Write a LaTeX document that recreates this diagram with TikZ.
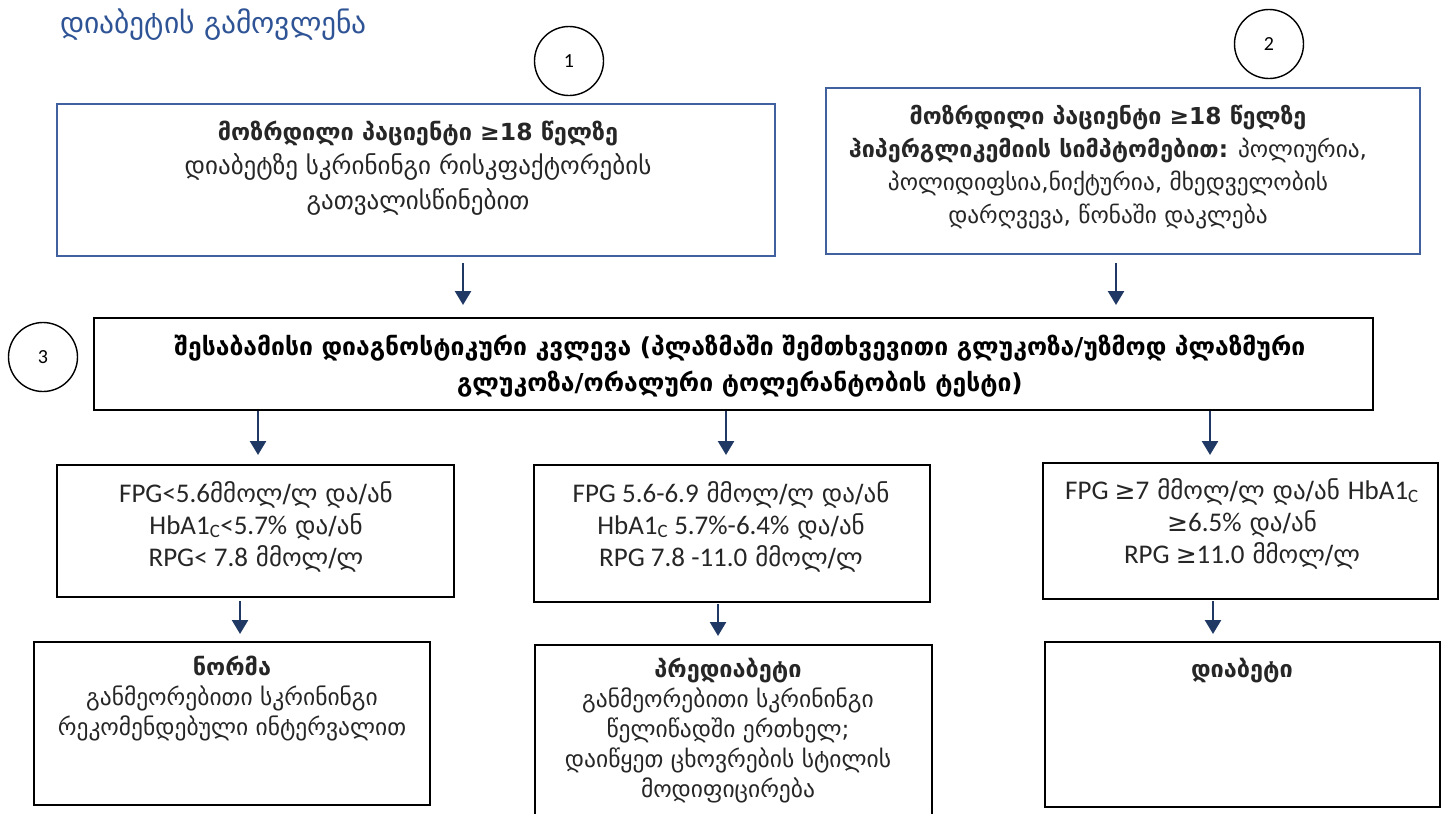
\documentclass[tikz,border=0pt]{standalone}
\usepackage{fontspec}
\setmainfont{DejaVu Sans}
\newfontfamily\latnfont{Carlito}
\usetikzlibrary{arrows.meta}
\definecolor{titleblue}{RGB}{47,84,150}
\definecolor{boxblue}{RGB}{65,96,158}
\definecolor{navy}{RGB}{31,56,100}
\definecolor{bodytext}{RGB}{38,38,38}
% Latin runs (values and abbreviations) are set in Carlito
\newcommand\lcal[1]{{\latnfont\fontsize{27}{32}\selectfont #1}}
\begin{document}
\begin{tikzpicture}[x=1pt,y=-1pt,
  bluebox/.style={draw=boxblue, line width=2.2pt, inner sep=0pt},
  blackbox/.style={draw=black, line width=2pt, inner sep=0pt},
  num/.style={draw=black, line width=1.4pt, circle, minimum size=69pt, inner sep=0pt,
    font=\latnfont\fontsize{20}{24}\selectfont},
  arr/.style={draw=navy, line width=2.5pt, -{Triangle[length=14pt,width=16pt]}},
  % multi-line texts are placed by the baseline of their last line
  txt/.style={align=center, anchor=base, inner sep=0pt, text=bodytext},
]
\useasboundingbox (0,0) rectangle (1449,814);

% heading
\node[anchor=base west, inner sep=0pt, text=titleblue, font=\fontsize{29.5}{34}\selectfont]
  (title) at (60,33) {დიაბეტის გამოვლენა};

% step numbers
\node[num] (n1) at (569,61) {1};
\node[num] (n2) at (1269,44) {2};
\node[num] (n3) at (43,357) {3};

% boxes
\node[bluebox, minimum width=718pt, minimum height=152pt] (A) at (416,180) {};
\node[bluebox, minimum width=594pt, minimum height=166pt] (B) at (1123,171) {};
\node[blackbox, minimum width=1279pt, minimum height=92pt] (M) at (733.5,364) {};
\node[blackbox, minimum width=397pt, minimum height=132pt] (L1) at (255.5,531) {};
\node[blackbox, minimum width=396pt, minimum height=137pt] (C1) at (732,533.5) {};
\node[blackbox, minimum width=395pt, minimum height=136pt] (R1) at (1240.5,531) {};
\node[blackbox, minimum width=396pt, minimum height=163pt] (L2) at (232,723.5) {};
\node[blackbox, minimum width=397pt, minimum height=185pt] (C2) at (733.5,737.5) {};
\node[blackbox, minimum width=395pt, minimum height=165pt] (R2) at (1242.5,724.5) {};

% box texts
\node[txt, font=\fontsize{25}{34.5}\selectfont] (At) at (418,209)
  {\textbf{\fontsize{23.5}{34.5}\selectfont მოზრდილი პაციენტი ≥18 წელზე}\\დიაბეტზე სკრინინგი რისკფაქტორების\\გათვალისწინებით};
\node[txt, font=\fontsize{23.3}{32.7}\selectfont] (Bt) at (1108,223)
  {\textbf{მოზრდილი პაციენტი ≥18 წელზე}\\\textbf{ჰიპერგლიკემიის სიმპტომებით:} პოლიურია,\\პოლიდიფსია,ნიქტურია, მხედველობის\\დარღვევა, წონაში დაკლება};
\node[txt, text=black, font=\bfseries\fontsize{24.7}{36}\selectfont] (Mt) at (740,391)
  {შესაბამისი დიაგნოსტიკური კვლევა (პლაზმაში შემთხვევითი გლუკოზა/უზმოდ პლაზმური\\გლუკოზა/ორალური ტოლერანტობის ტესტი)};
\node[txt, font=\fontsize{25}{32}\selectfont] (L1t) at (256,566)
  {\lcal{FPG<5.6}მმოლ/ლ და/ან\\\lcal{HbA1\textsubscript{C}<5.7\%} და/ან\\\lcal{RPG< 7.8} მმოლ/ლ};
\node[txt, font=\fontsize{25}{32}\selectfont] (C1t) at (731,566)
  {\lcal{FPG 5.6-6.9} მმოლ/ლ და/ან\\\lcal{HbA1\textsubscript{C} 5.7\%-6.4\%} და/ან\\\lcal{RPG 7.8 -11.0} მმოლ/ლ};
\node[txt, font=\fontsize{25}{32}\selectfont] (R1t) at (1242,563)
  {\lcal{FPG }≥\lcal{7} მმოლ/ლ და/ან \lcal{HbA1\textsubscript{C}}\\≥\lcal{6.5\%} და/ან\\\lcal{RPG }≥\lcal{11.0} მმოლ/ლ};
\node[txt, font=\fontsize{23.5}{30}\selectfont] (L2t) at (232,735)
  {\textbf{ნორმა}\\განმეორებითი სკრინინგი\\რეკომენდებული ინტერვალით};
\node[txt, font=\fontsize{23.5}{29.8}\selectfont] (C2t) at (728,797)
  {\textbf{პრედიაბეტი}\\განმეორებითი სკრინინგი\\წელიწადში ერთხელ;\\დაიწყეთ ცხოვრების სტილის\\მოდიფიცირება};
\node[txt, font=\bfseries\fontsize{23.5}{30}\selectfont] (R2t) at (1242,677) {დიაბეტი};

% connector columns
\coordinate (xa) at (463,0);
\coordinate (xb) at (1116,0);
\coordinate (x1) at (258,0);
\coordinate (x2) at (726,0);
\coordinate (x3) at (1210,0);
\coordinate (x4) at (240,0);
\coordinate (x5) at (718,0);
\coordinate (x6) at (1213,0);

\draw[arr, shorten <=6pt, shorten >=12pt] (A.south -| xa) -- (M.north -| xa);
\draw[arr, shorten <=8pt, shorten >=12pt] (B.south -| xb) -- (M.north -| xb);
\draw[arr, shorten >=9pt] (M.south -| x1) -- (L1.north -| x1);
\draw[arr, shorten >=9pt] (M.south -| x2) -- (C1.north -| x2);
\draw[arr, shorten >=7pt] (M.south -| x3) -- (R1.north -| x3);
\draw[arr, shorten <=3pt, shorten >=7pt] (L1.south -| x4) -- (L2.north -| x4);
\draw[arr, shorten <=1pt, shorten >=8pt] (C1.south -| x5) -- (C2.north -| x5);
\draw[arr, shorten <=1pt, shorten >=7pt] (R1.south -| x6) -- (R2.north -| x6);
\end{tikzpicture}
\end{document}
